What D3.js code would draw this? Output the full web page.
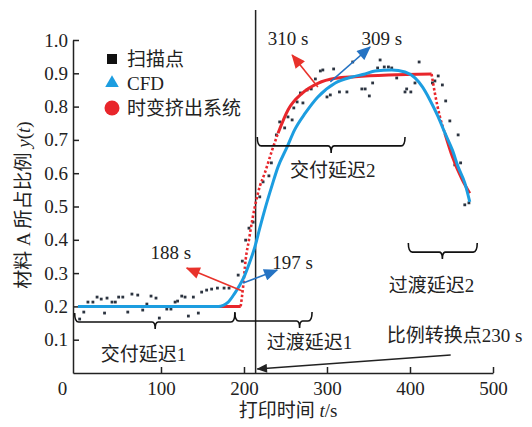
<!DOCTYPE html>
<html>
<head>
<meta charset="utf-8">
<script src="https://cdn.jsdelivr.net/npm/d3@7"></script>
<style>
body { margin: 0; background: #fff; }
svg text { font-family: "Liberation Serif", "Noto Sans CJK SC", serif; fill: #222; }
</style>
</head>
<body>
<div id="plot"></div>
<script>
// scan points (t in s, proportion)
const scanT = [2,7,12,18,23,28,32,35,41,45,49,54,60,65,72,78,83,88,94,98,
  107,112,117,120,125,129,133,139,145,149,155,161,168,176,182,193,198,202,206,211,
  219,223,230,233,239,243,249,253,258,260,264,268,271,276,281,286,292,295,300,304,
  308,315,324,331,342,346,351,355,361,364,369,374,378,384,394,396,401,406,411,427,
  430,434,439,443,448,454,458,461,466,471];
const scanV = [0.162,0.183,0.213,0.213,0.228,0.222,0.180,0.225,0.213,0.213,
  0.228,0.228,0.183,0.237,0.234,0.189,0.207,0.231,0.225,0.165,
  0.192,0.192,0.213,0.216,0.231,0.228,0.171,0.228,0.180,0.243,
  0.249,0.252,0.255,0.255,0.255,0.294,0.336,0.399,0.435,0.453,
  0.529,0.574,0.592,0.631,0.715,0.754,0.736,0.769,0.760,0.796,
  0.814,0.841,0.811,0.850,0.853,0.883,0.907,0.910,0.829,0.835,
  0.913,0.844,0.844,0.934,0.853,0.853,0.832,0.871,0.916,0.940,
  0.919,0.919,0.916,0.886,0.844,0.853,0.844,0.871,0.934,0.871,
  0.877,0.892,0.865,0.817,0.757,0.625,0.715,0.631,0.505,0.511];

// CFD curve
const cfdT = [0,159,169,181,189,195,201,207,213,219,225,234,241,252,261,274,289,310,330,346,358,378,394,406,415,424,434,442,451,458,466,472];
const cfdV = [0.2,0.2,0.2,0.213,0.24,0.264,0.294,0.333,0.378,0.435,0.49,0.565,0.619,0.679,0.730,0.781,0.829,0.871,0.889,0.898,0.907,0.910,0.904,0.886,0.859,0.820,0.769,0.721,0.670,0.619,0.571,0.514];

// time-varying extrusion system curve
const tvT = [0,196,199,202,206,210,214,219,225,234,241,253,270,289,310,334,374,426,430,436,442,451,463,472];
const tvV = [0.2,0.2,0.26,0.34,0.40,0.46,0.51,0.56,0.60,0.67,0.72,0.79,0.84,0.87,0.885,0.89,0.895,0.898,0.84,0.77,0.72,0.65,0.58,0.54];

const xTicks = [0, 100, 200, 300, 400, 500];
const yTicks = [0.1, 0.2, 0.3, 0.4, 0.5, 0.6, 0.7, 0.8, 0.9, 1.0];
const legendLabels = ["扫描点", "CFD", "时变挤出系统"];

const switchT = 214;   // where the vertical line sits on the axis

// braces: start, end, middle tick (t) and level (v)
const braces = [
  {t0: -4, t1: 189, tm: 93, v: 0.153, label: "交付延迟1", lt: 79, lv: 0.056},
  {t0: 189, t1: 282, tm: 267, v: 0.156, label: "过渡延迟1", lt: 279, lv: 0.093},
  {t0: 216, t1: 394, tm: 305, v: 0.682, label: "交付延迟2", lt: 307, lv: 0.608},
  {t0: 398, t1: 481, tm: 439, v: 0.363, label: "过渡延迟2", lt: 426, lv: 0.262}
];

// arrows: from -> to (t, v), text
const arrows = [
  {from: [198, 0.246], to: [131, 0.315], c: "red", text: "188 s", tt: 112, tv: 0.363, anchor: "middle"},
  {from: [199, 0.27], to: [240, 0.309], c: "blue", text: "197 s", tt: 234, tv: 0.333, anchor: "start"},
  {from: [289, 0.859], to: [258, 0.955], c: "red", text: "310 s", tt: 253, tv: 1.006, anchor: "middle"},
  {from: [304, 0.874], to: [352, 0.979], c: "blue", text: "309 s", tt: 366, tv: 1.006, anchor: "middle"},
  {from: [449, 0.054], to: [216, 0.012], c: "black", text: "比例转换点230 s", tt: 372, tv: 0.114, anchor: "start"}
];

const w = 532;
const h = 427;
const red = "#e8262b";
const blue = "#1c9de0";
const colors = {red: "#e8322b", blue: "#2573c3", black: "#222"};

const svg = d3.select("div#plot")
    .append("svg")
    .attr("width", w)
    .attr("height", h);

const x = d3.scaleLinear().domain([-6, 500]).range([73, 493]);
const y = d3.scaleLinear().domain([0, 1]).range([373, 40]);

// arrow heads
const defs = svg.append("defs");
Object.entries(colors).forEach(([k, c]) => {
  defs.append("marker")
      .attr("id", "ah-" + k)
      .attr("markerUnits", "userSpaceOnUse")
      .attr("viewBox", "0 0 14 12")
      .attr("refX", 13)
      .attr("refY", 6)
      .attr("markerWidth", k === "black" ? 14 : 15)
      .attr("markerHeight", k === "black" ? 9 : 12)
      .attr("orient", "auto")
    .append("path")
      .attr("d", "M0,0 L14,6 L0,12 Z")
      .attr("fill", c);
});

// axes
const xAxis = d3.axisBottom(x)
    .tickValues(xTicks)
    .tickSizeInner(-6)
    .tickSizeOuter(0)
    .tickPadding(9);

const gx = svg.append("g")
    .attr("transform", `translate(0, ${y(0)})`)
    .call(xAxis)
    .attr("font-size", 19);
gx.selectAll(".tick").filter(d => d === 0).select("line").remove();
gx.selectAll(".tick").filter(d => d === 0).select("text").attr("x", -16);

const yAxis = d3.axisLeft(y)
    .tickValues(yTicks)
    .tickSizeInner(-6)
    .tickSizeOuter(0)
    .tickPadding(5)
    .tickFormat(d3.format(".1f"));

const gy = svg.append("g")
    .attr("transform", `translate(${x(-6)}, 0)`)
    .call(yAxis)
    .attr("font-size", 19);

svg.selectAll(".domain, .tick line").attr("stroke", "#222").attr("stroke-width", 1.5);

// vertical switch line
svg.append("line")
    .attr("x1", x(switchT)).attr("x2", x(switchT))
    .attr("y1", y(1.09)).attr("y2", y(0))
    .attr("stroke", "#222")
    .attr("stroke-width", 1.5);

// scan points
svg.append("g")
  .selectAll("rect")
  .data(scanT.map((t, i) => [t, scanV[i]]))
  .enter().append("rect")
    .attr("x", d => x(d[0]) - 1.4)
    .attr("y", d => y(d[1]) - 1.4)
    .attr("width", 2.8)
    .attr("height", 2.8)
    .attr("fill", "#2c3440");

const line = d3.line()
    .x(d => x(d[0]))
    .y(d => y(d[1]))
    .curve(d3.curveMonotoneX);

const tvData = tvT.map((t, i) => [t, tvV[i]]);
const cfdData = cfdT.map((t, i) => [t, cfdV[i]]);

// red curve: solid where flat, dotted where steep
function part(a, b) {
  return tvData.filter(d => d[0] >= a && d[0] <= b);
}
[[0, 196, false], [196, 241, true], [241, 426, false], [426, 442, true], [442, 472, false]]
  .forEach(([a, b, dotted]) => {
    svg.append("path")
        .attr("d", line(part(a, b)))
        .attr("fill", "none")
        .attr("stroke", red)
        .attr("stroke-width", dotted ? 2.6 : 3)
        .attr("stroke-dasharray", dotted ? "2.5,2.2" : null);
  });

svg.append("path")
    .attr("d", line(cfdData))
    .attr("fill", "none")
    .attr("stroke", blue)
    .attr("stroke-width", 3);

// braces
braces.forEach(b => {
  const x0 = x(b.t0), x1 = x(b.t1), xm = x(b.tm), yy = y(b.v);
  const p = `M${x0},${yy - 9} Q${x0},${yy} ${x0 + 4},${yy} L${xm - 3},${yy} Q${xm},${yy} ${xm},${yy + 7} Q${xm},${yy} ${xm + 3},${yy} L${x1 - 4},${yy} Q${x1},${yy} ${x1},${yy - 9}`;
  svg.append("path")
      .attr("d", p)
      .attr("fill", "none")
      .attr("stroke", "#111")
      .attr("stroke-width", 1.6);
  svg.append("text")
      .attr("x", x(b.lt))
      .attr("y", y(b.lv))
      .attr("dy", "0.35em")
      .attr("text-anchor", "middle")
      .attr("font-size", 19)
      .text(b.label);
});

// arrows
arrows.forEach(a => {
  svg.append("line")
      .attr("x1", x(a.from[0])).attr("y1", y(a.from[1]))
      .attr("x2", x(a.to[0])).attr("y2", y(a.to[1]))
      .attr("stroke", colors[a.c])
      .attr("stroke-width", a.c === "black" ? 1.3 : 1.6)
      .attr("marker-end", `url(#ah-${a.c})`);
  svg.append("text")
      .attr("x", x(a.tt))
      .attr("y", y(a.tv))
      .attr("dy", "0.35em")
      .attr("text-anchor", a.anchor)
      .attr("font-size", 19)
      .text(a.text);
});

// legend
const lg = svg.append("g").attr("transform", "translate(112, 59)");
lg.append("rect").attr("x", -5).attr("y", -5).attr("width", 10).attr("height", 10).attr("fill", "#111");
lg.append("path").attr("d", d3.symbol(d3.symbolTriangle, 80)()).attr("transform", "translate(0, 24)").attr("fill", blue);
lg.append("circle").attr("cx", 0).attr("cy", 49).attr("r", 7.5).attr("fill", red);
lg.selectAll("text")
  .data(legendLabels)
  .enter().append("text")
    .attr("x", 15)
    .attr("y", (d, i) => [0, 24, 49][i])
    .attr("dy", "0.35em")
    .attr("font-size", 19)
    .text(d => d);

// axis titles
const yt = svg.append("text")
    .attr("transform", "translate(30, 205) rotate(-90)")
    .attr("text-anchor", "middle")
    .attr("font-size", 19);
yt.append("tspan").text("材料 A 所占比例 ");
yt.append("tspan").attr("font-style", "italic").text("y");
yt.append("tspan").text("(");
yt.append("tspan").attr("font-style", "italic").text("t");
yt.append("tspan").text(")");

const xt = svg.append("text")
    .attr("x", 288)
    .attr("y", 410)
    .attr("dy", "0.35em")
    .attr("text-anchor", "middle")
    .attr("font-size", 19);
xt.append("tspan").text("打印时间 ");
xt.append("tspan").attr("font-style", "italic").text("t");
xt.append("tspan").text("/s");
</script>
</body>
</html>
